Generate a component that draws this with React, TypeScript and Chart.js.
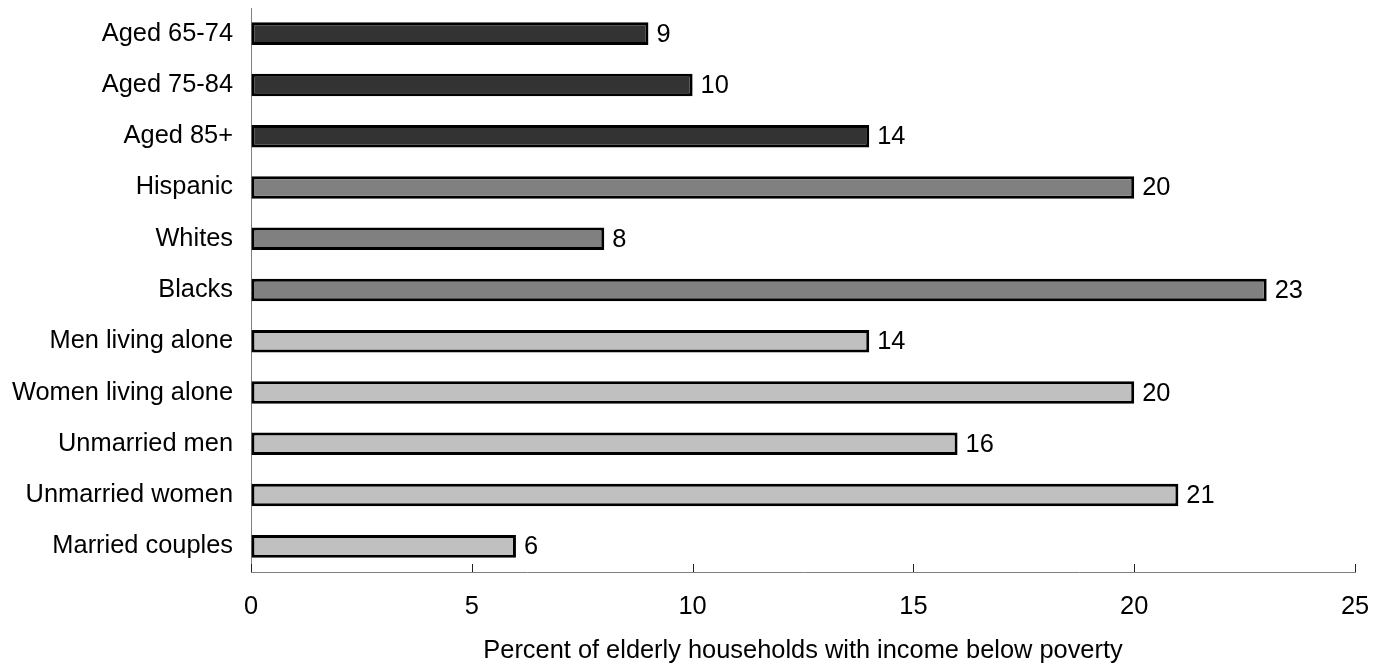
import React, { useEffect, useRef } from "react";
import { Chart, registerables } from "chart.js";

Chart.register(...registerables);

const categories = [
  "Aged 65-74",
  "Aged 75-84",
  "Aged 85+",
  "Hispanic",
  "Whites",
  "Blacks",
  "Men living alone",
  "Women living alone",
  "Unmarried men",
  "Unmarried women",
  "Married couples",
];
const values = [9, 10, 14, 20, 8, 23, 14, 20, 16, 21, 6];
const groupColors = [
  "#333333", "#333333", "#333333",
  "#808080", "#808080", "#808080",
  "#c0c0c0", "#c0c0c0", "#c0c0c0", "#c0c0c0", "#c0c0c0",
];
const xTicks = [0, 5, 10, 15, 20, 25];
const xTitle = "Percent of elderly households with income below poverty";

const FONT = "'Liberation Sans', Arial, Helvetica, sans-serif";
const FSIZE = 25.4;

const extrasPlugin = {
  id: "extras",
  afterDatasetsDraw(chart: any) {
    const ctx = chart.ctx;
    const xs = chart.scales.x;
    const meta = chart.getDatasetMeta(0);
    ctx.save();
    ctx.font = `${FSIZE}px ${FONT}`;
    ctx.fillStyle = "#000";
    ctx.textAlign = "left";
    ctx.textBaseline = "middle";
    meta.data.forEach((bar: any, i: number) => {
      ctx.fillText(String(values[i]), bar.x + 8, bar.y + 1);
    });
    ctx.strokeStyle = "#222";
    ctx.lineWidth = 1;
    const yb = chart.chartArea.bottom;
    xTicks.forEach((t) => {
      const px = Math.round(xs.getPixelForValue(t)) + 0.5;
      ctx.beginPath();
      ctx.moveTo(px, yb);
      ctx.lineTo(px, yb - 8);
      ctx.stroke();
    });
    ctx.restore();
  },
};

const zeroPad = (scale: any) => {
  scale.paddingTop = 0;
  scale.paddingBottom = 0;
  scale.paddingLeft = 0;
  scale.paddingRight = 0;
};

export default function App() {
  const ref = useRef<HTMLCanvasElement | null>(null);
  useEffect(() => {
    if (!ref.current) return;
    const chart = new Chart(ref.current, {
      type: "bar",
      data: {
        labels: categories,
        datasets: [
          {
            data: values,
            backgroundColor: groupColors,
            borderColor: "#000",
            borderWidth: 3,
            borderSkipped: false,
            barPercentage: 0.44,
            categoryPercentage: 1,
          },
        ],
      },
      options: {
        indexAxis: "y",
        animation: false,
        responsive: false,
        maintainAspectRatio: false,
        layout: { padding: { left: 0, right: 30, top: 8, bottom: 0 } },
        plugins: {
          legend: { display: false },
          tooltip: { enabled: false },
        },
        scales: {
          x: {
            min: 0,
            max: 25,
            afterBuildTicks: (scale: any) => {
              scale.ticks = xTicks.map((v) => ({ value: v }));
            },
            afterFit: (scale: any) => {
              scale.height = 95;
              zeroPad(scale);
            },
            grid: {
              display: true,
              drawOnChartArea: false,
              drawTicks: false,
            },
            border: { display: true, color: "#808080", width: 1 },
            ticks: {
              padding: 20,
              color: "#000",
              maxRotation: 0,
              font: { family: FONT, size: FSIZE },
            },
            title: {
              display: true,
              text: xTitle,
              color: "#000",
              font: { family: FONT, size: FSIZE },
              padding: { top: 0, bottom: 1 },
            },
          },
          y: {
            afterFit: (scale: any) => {
              scale.width = 251;
              zeroPad(scale);
            },
            grid: { display: false, drawTicks: false },
            border: { display: true, color: "#808080", width: 1 },
            ticks: {
              padding: 18,
              color: "#000",
              font: { family: FONT, size: FSIZE },
            },
          },
        },
      },
      plugins: [extrasPlugin],
    } as any);
    return () => chart.destroy();
  }, []);
  return (
    <div
      style={{
        position: "fixed",
        left: 0,
        top: 0,
        width: 1385,
        height: 667,
        background: "#fff",
      }}
    >
      <canvas ref={ref} width={1385} height={667} style={{ width: 1385, height: 667 }} />
    </div>
  );
}
